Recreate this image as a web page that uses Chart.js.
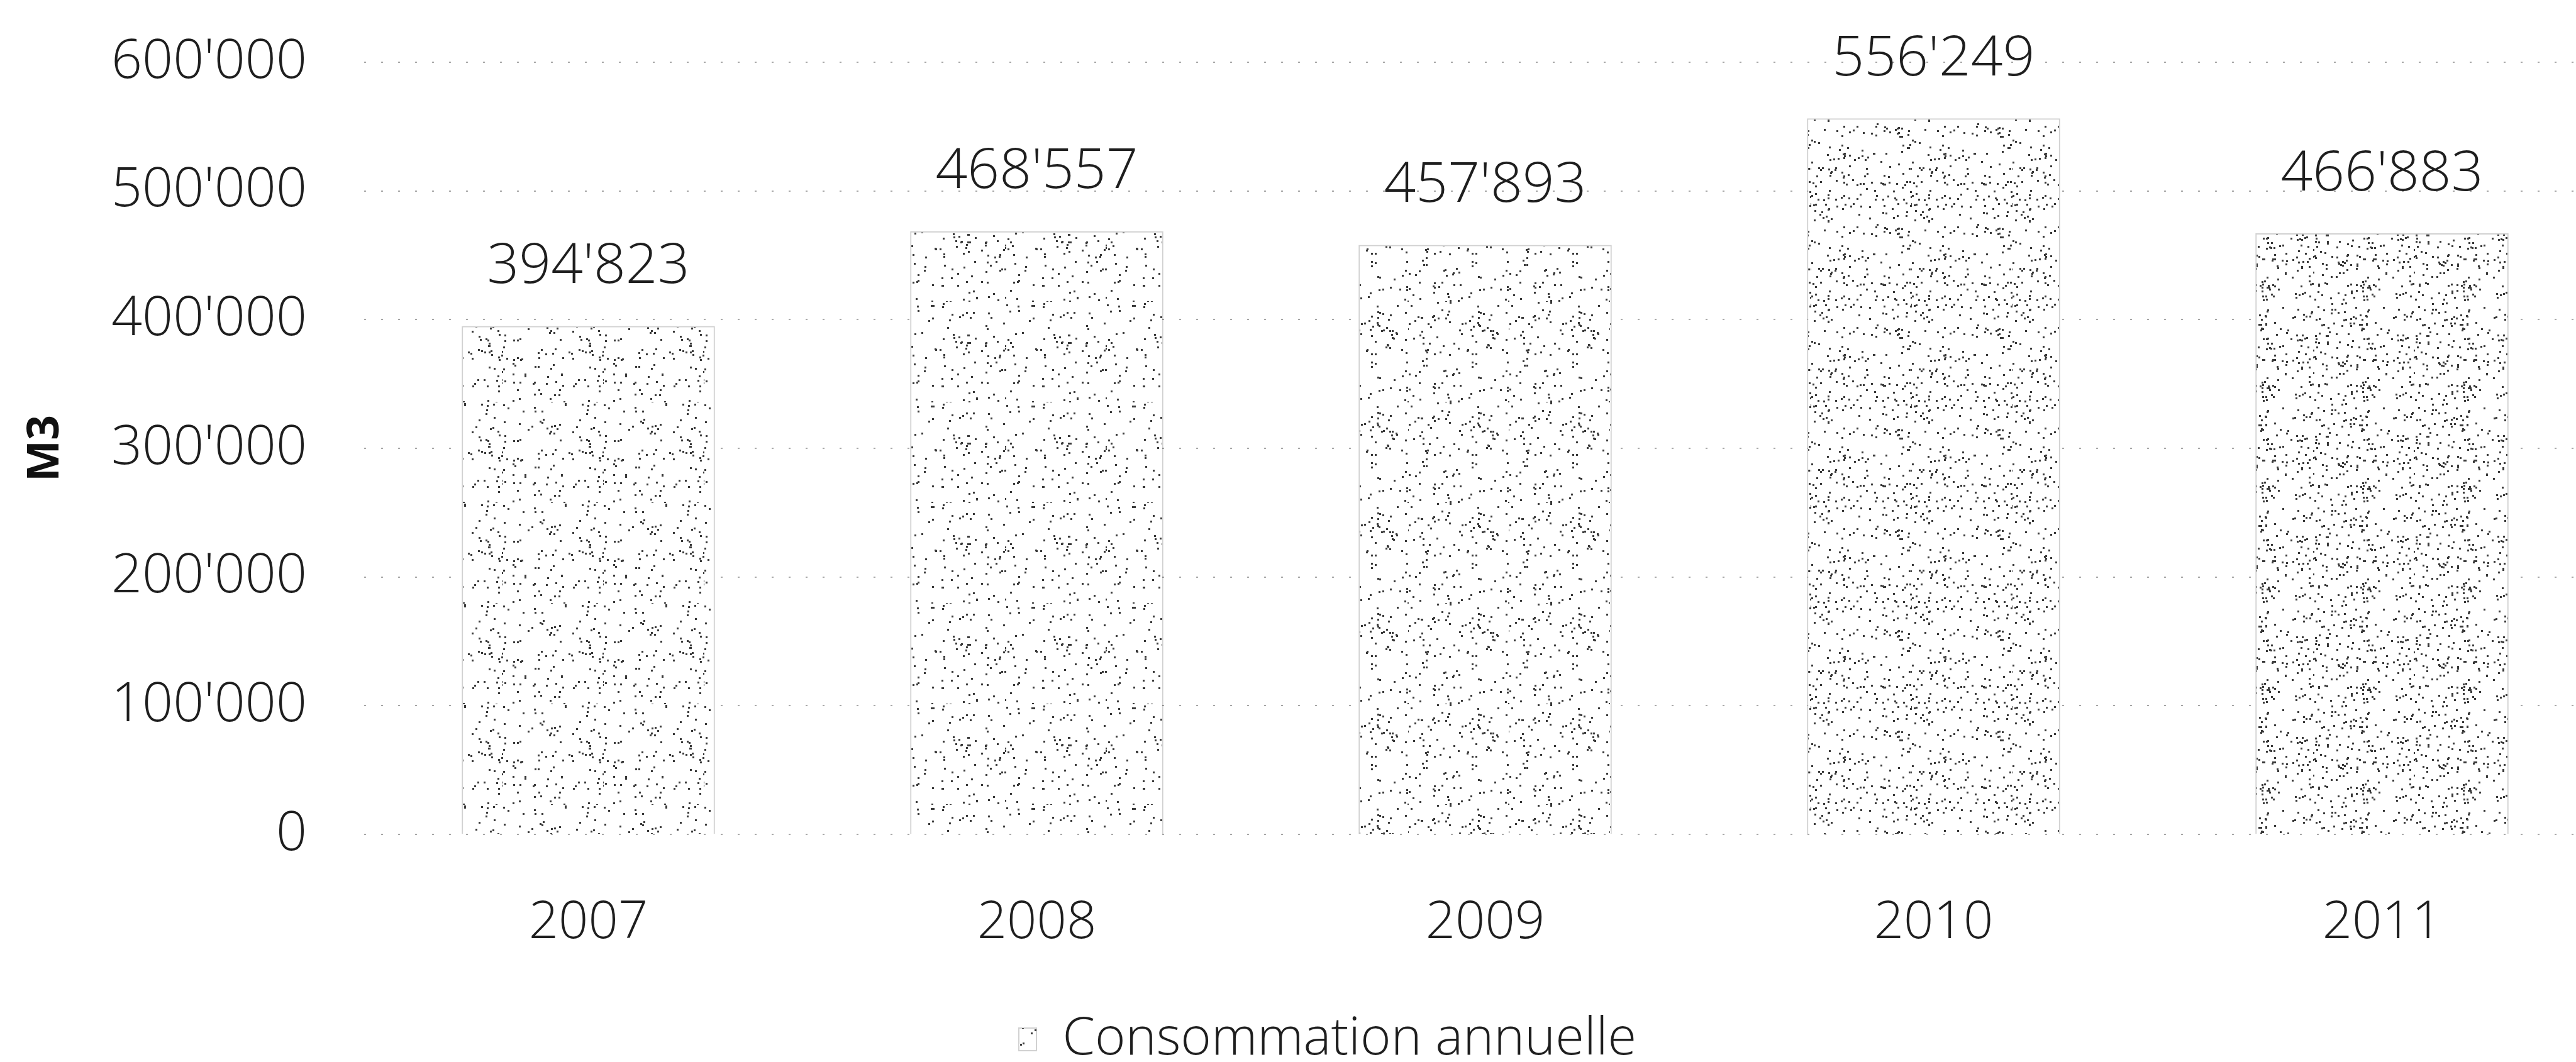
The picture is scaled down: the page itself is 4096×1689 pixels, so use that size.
<!DOCTYPE html>
<html>
<head>
<meta charset="utf-8">
<script src="https://cdn.jsdelivr.net/npm/chart.js@4.4.1/dist/chart.umd.min.js"></script>
<style>
html,body{margin:0;padding:0;background:#fff;overflow:hidden}
#wrap{width:4096px;height:1689px}
</style>
</head>
<body>
<div id="wrap"><canvas id="chart" width="4096" height="1689"></canvas></div>
<script>
// data
const years = [2007, 2008, 2009, 2010, 2011];
const volumes = [394823, 468557, 457893, 556249, 466883];
const yTicks = [0, 100000, 200000, 300000, 400000, 500000, 600000];
const seriesLabel = 'Consommation annuelle';
const axisTitle = 'M3';

const FONT = "'Open Sans', 'Liberation Sans', sans-serif";
const INK = '#1e1e1e';

// swiss style thousands: 394'823
const fmt = v => String(v).replace(/\B(?=(\d{3})+(?!\d))/g, "'");

// scanned look: white tile with sparse dark specks
function stipple(count, seed) {
  const n = 160;
  const c = document.createElement('canvas');
  c.width = c.height = n;
  const g = c.getContext('2d');
  g.fillStyle = '#fff';
  g.fillRect(0, 0, n, n);
  g.fillStyle = '#3a3a3a';
  let s = seed;
  const rnd = () => (s = (s * 16807) % 2147483647) / 2147483647;
  for (let i = 0; i < count; i++) {
    g.fillRect(Math.floor(rnd() * n), Math.floor(rnd() * n), 3, 3);
  }
  return g.createPattern(c, 'repeat');
}
const fills = [stipple(125, 11), stipple(110, 23), stipple(130, 37), stipple(165, 41), stipple(205, 53)];

const valueLabels = {
  id: 'valueLabels',
  afterDatasetsDraw(chart) {
    const { ctx } = chart;
    ctx.save();
    ctx.font = '300 89px ' + FONT;
    ctx.fillStyle = INK;
    ctx.textAlign = 'center';
    ctx.textBaseline = 'middle';
    chart.getDatasetMeta(0).data.forEach((bar, i) => {
      ctx.fillText(fmt(volumes[i]), bar.x, bar.y - 94);
    });
    ctx.restore();
  }
};

// legend sits a bit right of centre and low, like the original
const legendPlace = {
  id: 'legendPlace',
  afterLayout(chart) {
    const lg = chart.legend;
    const top = 1653 - lg.options.labels.padding - 83 / 2;
    lg.bottom = top + lg.height;
    lg.top = top;
    lg.left += 63;
    lg.right += 63;
  }
};

const plotLeft = 579, plotTop = 99, plotBottom = 1327;
const stepPx = 713;

const chart = new Chart(document.getElementById('chart'), {
  type: 'bar',
  data: {
    datasets: [{
      label: seriesLabel,
      data: years.map((y, i) => ({ x: y, y: volumes[i] })),
      backgroundColor: (c) => fills[c.dataIndex] || fills[0],
      borderColor: 'rgba(0,0,0,0.18)',
      borderWidth: 2,
      barThickness: 402
    }]
  },
  options: {
    responsive: false,
    animation: false,
    events: [],
    layout: { padding: { top: 99, left: 0, right: 0, bottom: 73 } },
    plugins: {
      tooltip: { enabled: false },
      legend: {
        position: 'bottom',
        labels: {
          font: { family: FONT, size: 83, weight: '300' },
          color: INK,
          boxWidth: 28,
          boxHeight: 36,
          padding: 10
        }
      }
    },
    scales: {
      x: {
        type: 'linear',
        min: 2006.5,
        max: 2006.5 + (4096 - plotLeft) / stepPx,
        offset: false,
        grid: { display: false },
        border: { display: false },
        afterBuildTicks: (axis) => { axis.ticks = years.map(v => ({ value: v })); },
        ticks: {
          padding: 84,
          maxRotation: 0,
          autoSkip: false,
          color: INK,
          font: { family: FONT, size: 83, weight: '300' },
          callback: (v) => String(v)
        }
      },
      y: {
        min: 0,
        max: 600000,
        afterFit: (scale) => { scale.width = plotLeft; },
        afterBuildTicks: (axis) => { axis.ticks = yTicks.map(v => ({ value: v })); },
        // invisible tick marks hold the gap between labels and plot
        grid: { color: 'rgba(0,0,0,0.34)', lineWidth: 2, drawTicks: true, tickLength: 81, tickColor: 'rgba(0,0,0,0)' },
        border: { display: false, dash: [3, 24] },
        title: {
          display: true,
          text: axisTitle,
          color: '#111',
          font: { family: FONT, size: 70, weight: 'bold' },
          padding: { top: 31, bottom: 0 }
        },
        ticks: {
          padding: 10,
          color: INK,
          font: { family: FONT, size: 86, weight: '300' },
          callback: (v) => fmt(v)
        }
      }
    }
  },
  plugins: [valueLabels, legendPlace]
});

// pin the plot area to where the original has it
for (let k = 0; k < 3; k++) {
  const ca = chart.chartArea;
  const pad = chart.options.layout.padding;
  pad.top += plotTop - ca.top;
  pad.bottom += ca.bottom - plotBottom;
  chart.update();
}
</script>
</body>
</html>
